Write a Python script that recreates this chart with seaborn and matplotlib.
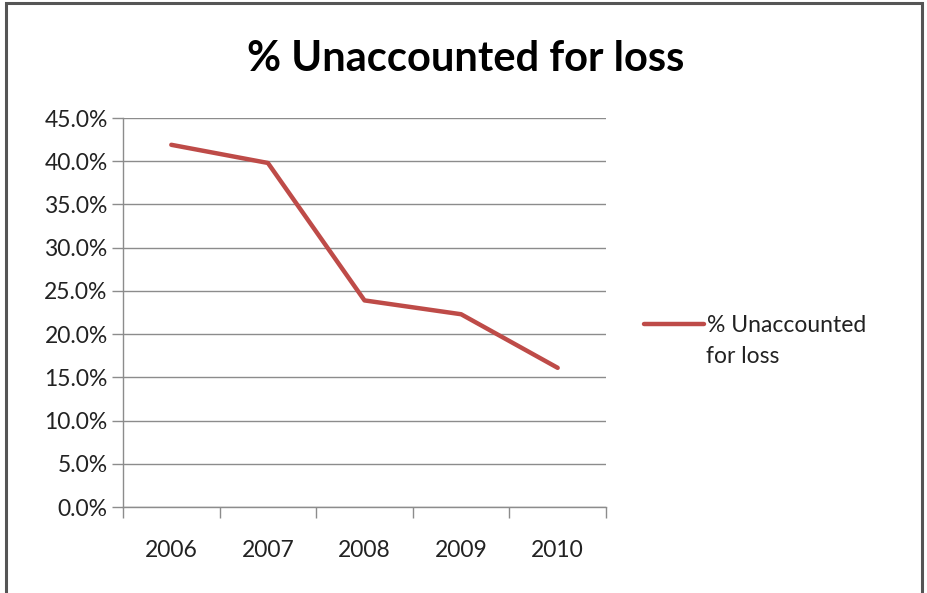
import numpy as np
import pandas as pd
import matplotlib
matplotlib.use("Agg")
import matplotlib.pyplot as plt
import matplotlib.ticker as mticker
from matplotlib.patches import Rectangle
from matplotlib.lines import Line2D
import seaborn as sns

years = ["2006", "2007", "2008", "2009", "2010"]
loss_pct = [41.9, 39.8, 23.9, 22.3, 16.1]
series_name = "% Unaccounted for loss"

sns.set_theme(style="white")
plt.rcParams["font.family"] = ["Lato", "DejaVu Sans"]

df = pd.DataFrame({"year": years, "loss": np.array(loss_pct) / 100})
df["pos"] = np.arange(len(years))

fig = plt.figure(figsize=(9.27, 5.93), dpi=100)
ax = fig.add_axes([0.1327, 0.145, 0.521, 0.656])

sns.lineplot(data=df, x="pos", y="loss", ax=ax, color="#BE4B48", linewidth=3.2,
             legend=False)

ax.set_xlim(-0.5, len(years) - 0.5)
ax.set_ylim(0, 0.45)
ax.yaxis.set_major_locator(mticker.MultipleLocator(0.05))
ax.yaxis.set_major_formatter(mticker.PercentFormatter(xmax=1, decimals=1))
ax.grid(axis="y", color="#8c8c8c", linewidth=1)
ax.set_axisbelow(True)

# category axis: ticks on boundaries, labels at centres
ax.set_xticks(np.arange(-0.5, len(years), 1.0))
ax.set_xticklabels([])
ax.set_xticks(df["pos"], minor=True)
ax.set_xticklabels(years, minor=True)
ax.tick_params(axis="x", which="major", length=8, width=1, color="#8c8c8c",
               direction="out", bottom=True)
ax.tick_params(axis="x", which="minor", length=0, pad=24, labelsize=16.5,
               labelcolor="#222222")
ax.tick_params(axis="y", length=8, width=1, color="#8c8c8c", direction="out",
               left=True, labelsize=16.5, labelcolor="#222222", pad=3)

for side in ["top", "right"]:
    ax.spines[side].set_visible(False)
for side in ["left", "bottom"]:
    ax.spines[side].set_color("#8c8c8c")
    ax.spines[side].set_linewidth(1)
ax.set_xlabel("")
ax.set_ylabel("")

fig.text(0.502, 0.900, series_name, ha="center", va="center", fontsize=30,
         fontweight="bold", color="black")

# legend: handle sits beside the first line, label wraps onto a second line
first_line, second_line = "% Unaccounted", "for loss"
handle = Line2D([], [], color="#BE4B48", linewidth=3.2)
leg = fig.legend([handle], [first_line], loc="center left",
                 bbox_to_anchor=(0.695, 0.451), frameon=False, fontsize=16.5,
                 handlelength=2.6, handletextpad=0.15, labelcolor="#222222",
                 borderpad=0, borderaxespad=0)
fig.text(0.762, 0.398, second_line, ha="left", va="center", fontsize=16.5,
         color="#222222")

# outer chart border
fig.patches.append(Rectangle((0.0065, -0.05), 0.988, 1.045, transform=fig.transFigure,
                             fill=False, edgecolor="#555555", linewidth=2.2))

fig.savefig("out.png", dpi=100)
